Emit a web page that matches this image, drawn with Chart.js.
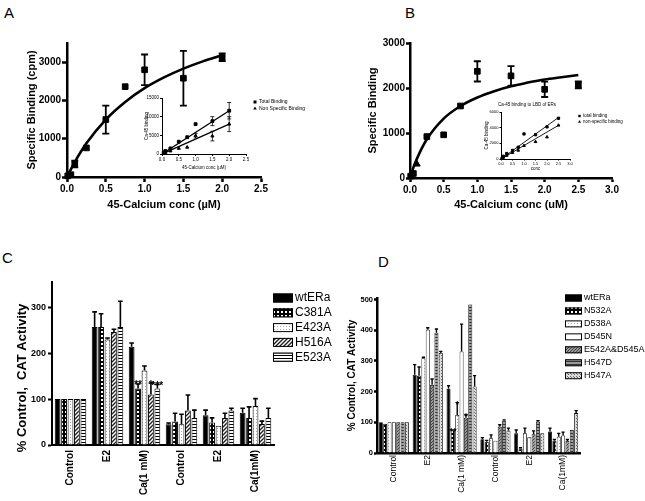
<!DOCTYPE html>
<html>
<head>
<meta charset="utf-8">
<script src="https://cdn.jsdelivr.net/npm/chart.js@4.4.0/dist/chart.umd.min.js"></script>
<style>
  body { margin: 0; background: #fff; }
  #wrap { position: relative; width: 645px; height: 501px; overflow: hidden; font-family: 'Liberation Sans', Arial, sans-serif; }
  #wrap canvas { position: absolute; }
  .tag { position: absolute; font-size: 15px; line-height: 15px; color: #000; }
</style>
</head>
<body>
<div id="wrap">
  <div class="tag" style="left:4px;top:5px">A</div>
  <div class="tag" style="left:405px;top:5px">B</div>
  <div class="tag" style="left:2px;top:250px">C</div>
  <div class="tag" style="left:378px;top:254px">D</div>
  <canvas id="chartA" width="320" height="240" style="left:0;top:0"></canvas>
  <canvas id="insetA" width="185" height="100" style="left:135px;top:85px"></canvas>
  <canvas id="chartB" width="325" height="240" style="left:320px;top:0"></canvas>
  <canvas id="insetB" width="175" height="80" style="left:470px;top:95px"></canvas>
  <canvas id="chartC" width="345" height="251" style="left:0;top:250px"></canvas>
  <canvas id="chartD" width="315" height="251" style="left:330px;top:250px"></canvas>
</div>
<script>
// ---- panel A: specific binding (cpm) vs 45Ca conc
const aConc = [0.01, 0.05, 0.1, 0.25, 0.5, 0.75, 1.0, 1.5, 2.0];
const aBinding = [30, 60, 340, 760, 1500, 2360, 2800, 2580, 3130];
const aErr = [0, 0, 90, 0, 365, 0, 400, 715, 100];
const aFitConc = [0, 0.05, 0.1, 0.25, 0.5, 0.75, 1.0, 1.25, 1.5, 1.75, 2.0];
const aFit = [0, 200, 390, 880, 1500, 1960, 2320, 2600, 2830, 3020, 3180];
const aXTicks = [0, 0.5, 1.0, 1.5, 2.0, 2.5];
const aYTicks = [0, 1000, 2000, 3000];
// inset A
const aInsConc = [0.05, 0.1, 0.25, 0.5, 0.75, 1.0, 1.5, 2.0];
const aInsTotal = [400, 800, 1500, 3300, 4500, 8000, 8800, 11600];
const aInsTotalErr = [0, 0, 0, 0, 0, 0, 1200, 2200];
const aInsNonSpec = [200, 400, 800, 1500, 1800, 4900, 4800, 8000];
const aInsNonSpecErr = [0, 0, 0, 0, 0, 600, 1300, 2000];
const aInsFitConc = [0, 2.0];
const aInsTotalFit = [0, 11600];
const aInsNonSpecFit = [0, 8000];
const aInsXTicks = [0, 0.5, 1.0, 1.5, 2.0, 2.5];
const aInsYTicks = [0, 5000, 10000, 15000];

// ---- panel B
const bConc = [0.01, 0.05, 0.1, 0.25, 0.5, 0.75, 1.0, 1.5, 2.0, 2.5];
const bBinding = [40, 100, 310, 920, 960, 1600, 2370, 2270, 1970, 2070];
const bErr = [0, 0, 0, 0, 0, 0, 225, 215, 170, 75];
const bStyle = ['rect', 'rect', 'triangle', 'rect', 'rect', 'rect', 'rect', 'rect', 'rect', 'rect'];
const bFitConc = [0, 0.05, 0.1, 0.25, 0.5, 0.75, 1.0, 1.25, 1.5, 1.75, 2.0, 2.25, 2.5];
const bFit = [0, 230, 420, 860, 1320, 1600, 1790, 1930, 2040, 2120, 2190, 2240, 2290];
const bXTicks = [0, 0.5, 1.0, 1.5, 2.0, 2.5, 3.0];
const bYTicks = [0, 1000, 2000, 3000];
// inset B
const bInsConc = [0.05, 0.1, 0.25, 0.5, 0.75, 1.0, 1.5, 2.0, 2.5];
const bInsTotal = [150, 350, 700, 1100, 1500, 3200, 3100, 4100, 5200];
const bInsNonSpec = [100, 200, 450, 800, 1100, 1700, 2200, 2800, 4300];
const bInsFitConc = [0, 2.5];
const bInsTotalFit = [0, 5300];
const bInsNonSpecFit = [0, 4300];
const bInsXTicks = [0, 0.5, 1.0, 1.5, 2.0, 2.5, 3.0];
const bInsYTicks = [0, 2000, 4000, 6000];

// ---- panel C: % control CAT activity
const cCats = ['Control', 'E2', 'Ca(1 mM)', 'Control', 'E2', 'Ca(1mM)'];
const cWt = [100, 257, 214, 45, 65, 70];
const cWtErr = [0, 33, 8, 3, 11, 10];
const cC381A = [100, 257, 123, 51, 49, 59];
const cC381AErr = [0, 29, 10, 18, 10, 24];
const cE423A = [100, 230, 162, 45, 42, 85];
const cE423AErr = [0, 3, 10, 22, 0, 16];
const cH516A = [100, 246, 110, 75, 59, 46];
const cH516AErr = [0, 6, 25, 34, 10, 6];
const cE523A = [100, 257, 123, 59, 75, 59];
const cE523AErr = [0, 56, 9, 17, 5, 21];
const cStars = { C381A: ['', '', '**', '', '', ''], H516A: ['', '', '*', '', '', ''], E523A: ['', '', '***', '', '', ''] };
const cYTicks = [0, 100, 200, 300];

// ---- panel D
const dCats = ['Control', 'E2', 'Ca(1 mM)', 'Control', 'E2', 'Ca(1mM)'];
const dWt = [100, 255, 209, 45, 64, 70];
const dWtErr = [0, 33, 10, 5, 11, 11];
const dN532A = [95, 252, 75, 37, 15, 40];
const dN532AErr = [0, 28, 0, 4, 2, 4];
const dD538A = [100, 309, 124, 48, 64, 53];
const dD538AErr = [0, 3, 40, 11, 17, 11];
const dD545N = [100, 402, 331, 40, 51, 57];
const dD545NErr = [0, 6, 89, 0, 0, 11];
const dE542A = [100, 222, 115, 86, 61, 39];
const dE542AErr = [0, 19, 9, 6, 11, 5];
const dH547D = [100, 392, 484, 105, 102, 75];
const dH547DErr = [0, 12, 0, 3, 3, 0];
const dH547A = [100, 326, 217, 73, 64, 130];
const dH547AErr = [0, 5, 35, 8, 0, 8];
const dStars = { N532A: ['', '', '**', '', '', ''], D538A: ['', '', '*', '', '', ''], E542A: ['', '', '*', '', '', ''] };
const dYTicks = [0, 100, 200, 300, 400, 500];

Chart.defaults.font.family = "'Liberation Sans', Arial, sans-serif";
Chart.defaults.color = '#000';
Chart.defaults.animation = false;
Chart.defaults.responsive = false;
Chart.defaults.plugins.legend.display = false;
Chart.defaults.plugins.tooltip.enabled = false;

function makePattern(w, h, draw) {
  const c = document.createElement('canvas');
  c.width = w; c.height = h;
  const g = c.getContext('2d');
  draw(g);
  return g.createPattern(c, 'repeat');
}
const pat = {
  checker: makePattern(4, 4, g => { g.fillStyle = '#000'; g.fillRect(0, 0, 4, 4); g.fillStyle = '#fff'; g.fillRect(1, 1, 2, 2); }),
  lightDots: makePattern(3, 3, g => { g.fillStyle = '#fff'; g.fillRect(0, 0, 3, 3); g.fillStyle = '#aaa'; g.fillRect(1, 1, 1, 1); }),
  diag: makePattern(4, 4, g => {
    g.fillStyle = '#fff'; g.fillRect(0, 0, 4, 4);
    g.strokeStyle = '#222'; g.lineWidth = 1.4;
    g.beginPath(); g.moveTo(-1, 5); g.lineTo(5, -1); g.moveTo(-1, 1); g.lineTo(1, -1); g.moveTo(3, 5); g.lineTo(5, 3); g.stroke();
  }),
  hLines: makePattern(3, 3, g => { g.fillStyle = '#fff'; g.fillRect(0, 0, 3, 3); g.fillStyle = '#000'; g.fillRect(0, 0, 3, 1); }),
  grayDiag: makePattern(3, 3, g => {
    g.fillStyle = '#999'; g.fillRect(0, 0, 3, 3);
    g.fillStyle = '#444'; g.fillRect(0, 2, 1, 1); g.fillRect(1, 1, 1, 1); g.fillRect(2, 0, 1, 1);
  }),
  grayLines: makePattern(3, 3, g => { g.fillStyle = '#999'; g.fillRect(0, 0, 3, 3); g.fillStyle = '#333'; g.fillRect(0, 0, 3, 1); }),
  grayDots: makePattern(3, 3, g => { g.fillStyle = '#ddd'; g.fillRect(0, 0, 3, 3); g.fillStyle = '#666'; g.fillRect(1, 1, 1, 1); g.fillRect(0, 0, 1, 1); })
};

// error bars (and significance stars) drawn through the chart's own scales
const errorBars = {
  id: 'errorBars',
  afterDatasetsDraw(chart) {
    const ctx = chart.ctx;
    chart.data.datasets.forEach((ds, i) => {
      if (!ds.errors) return;
      const meta = chart.getDatasetMeta(i);
      const ys = chart.scales[meta.yAxisID];
      ctx.save();
      ctx.strokeStyle = '#000';
      ctx.lineWidth = ds.errWidth || 1.5;
      meta.data.forEach((el, j) => {
        const raw = ds.data[j];
        const v = typeof raw === 'object' ? raw.y : raw;
        const e = ds.errors[j] || 0;
        const top = ys.getPixelForValue(v + e);
        if (e) {
          const bottom = ds.errorBoth ? ys.getPixelForValue(v - e) : el.y;
          const half = ds.cap || el.width * 0.4;
          ctx.beginPath();
          ctx.moveTo(el.x, bottom); ctx.lineTo(el.x, top);
          ctx.moveTo(el.x - half, top); ctx.lineTo(el.x + half, top);
          if (ds.errorBoth) { ctx.moveTo(el.x - half, bottom); ctx.lineTo(el.x + half, bottom); }
          ctx.stroke();
        }
        if (ds.stars && ds.stars[j]) {
          const fs = ds.starSize || 10;
          ctx.fillStyle = '#000';
          ctx.font = 'bold ' + fs + 'px ' + Chart.defaults.font.family;
          ctx.textAlign = 'center';
          ctx.textBaseline = 'alphabetic';
          ctx.fillText(ds.stars[j], el.x, top + fs * 0.45);
        }
      });
      ctx.restore();
    });
  }
};

// legend placed beside the plot like the original figure
const sideLegend = {
  id: 'sideLegend',
  afterDraw(chart, args, o) {
    const ctx = chart.ctx;
    ctx.save();
    ctx.font = o.font;
    ctx.textBaseline = 'middle';
    ctx.textAlign = 'left';
    if (o.caption) {
      ctx.fillStyle = '#000';
      ctx.textAlign = 'center';
      ctx.fillText(o.caption, o.capX, o.capY);
      ctx.textAlign = 'left';
    }
    let row = 0;
    chart.data.datasets.forEach(ds => {
      if (!ds.label) return;
      const y = o.y + row * o.step;
      row++;
      if (o.marker) {
        const x = o.x + o.boxW / 2, r = o.marker;
        ctx.fillStyle = '#000';
        ctx.beginPath();
        if (ds.pointStyle === 'triangle') {
          ctx.moveTo(x, y - r); ctx.lineTo(x + r * 0.9, y + r * 0.6); ctx.lineTo(x - r * 0.9, y + r * 0.6); ctx.closePath();
        } else {
          ctx.rect(x - r * 0.75, y - r * 0.75, r * 1.5, r * 1.5);
        }
        ctx.fill();
      } else {
        ctx.fillStyle = ds.backgroundColor;
        ctx.fillRect(o.x, y - o.boxH / 2, o.boxW, o.boxH);
        ctx.lineWidth = 1;
        ctx.strokeStyle = '#000';
        ctx.strokeRect(o.x + 0.5, y - o.boxH / 2 + 0.5, o.boxW - 1, o.boxH - 1);
      }
      ctx.fillStyle = '#000';
      ctx.fillText(ds.label, o.x + o.boxW + o.gap, y);
    });
    ctx.restore();
  }
};

// GraphPad-like axis: thick line, outside ticks, no grid
function gpAxis(o) {
  const ticks = {
    autoSkip: false, padding: o.pad, color: '#000', font: o.font,
    maxRotation: o.rot || 0, minRotation: o.rot || 0
  };
  if (o.type !== 'category') {
    ticks.callback = v => o.dec ? v.toFixed(o.dec) : String(v);
  }
  const axis = {
    type: o.type || 'linear',
    min: o.min, max: o.max,
    offset: o.type === 'category',
    border: { display: true, color: '#000', width: o.lw },
    grid: { display: !!o.tick, drawOnChartArea: false, drawTicks: !!o.tick, tickLength: o.tick || 0, tickWidth: o.lw, tickColor: '#000' },
    ticks: ticks,
    title: { display: !!o.title, text: o.title, font: o.titleFont, padding: 0, color: '#000' },
    afterFit: s => { if (s.isHorizontal()) s.height = o.size; else s.width = o.size; }
  };
  if (o.values) axis.afterBuildTicks = s => { s.ticks = o.values.map(v => ({ value: v })); };
  return axis;
}

const pts = (xs, ys) => xs.map((x, i) => ({ x: x, y: ys[i] }));
const boldF = s => ({ size: s, weight: 'bold' });

// ---------- A
new Chart(document.getElementById('chartA'), {
  type: 'scatter',
  data: { datasets: [
    { data: pts(aConc, aBinding), pointStyle: 'rect', pointRadius: 4, backgroundColor: '#000', borderColor: '#000',
      errors: aErr, errorBoth: true, cap: 3.5, errWidth: 1.8, clip: false },
    { data: pts(aFitConc, aFit), showLine: true, pointRadius: 0, borderColor: '#000', borderWidth: 2.6,
      tension: 0.4, cubicInterpolationMode: 'monotone', clip: false }
  ]},
  options: {
    layout: { padding: { left: 25, top: 43, right: 59, bottom: 28 } },
    scales: {
      x: gpAxis({ min: 0, max: 2.5, values: aXTicks, dec: 1, tick: 5, lw: 2.5, pad: 1, font: boldF(10), size: 35,
        title: '45-Calcium conc (\u00b5M)', titleFont: boldF(11) }),
      y: gpAxis({ min: 0, max: 3500, values: aYTicks, tick: 5, lw: 2.5, pad: 1, font: boldF(10), size: 42,
        title: 'Specific Binding (cpm)', titleFont: boldF(11) })
    }
  },
  plugins: [errorBars]
});

new Chart(document.getElementById('insetA'), {
  type: 'scatter',
  data: { datasets: [
    { label: 'Total Binding', data: pts(aInsConc, aInsTotal), pointStyle: 'rect', pointRadius: 2, backgroundColor: '#000', borderColor: '#000',
      errors: aInsTotalErr, errorBoth: true, cap: 2, errWidth: 0.8, clip: false },
    { label: 'Non Specific Binding', data: pts(aInsConc, aInsNonSpec), pointStyle: 'triangle', pointRadius: 1.8, backgroundColor: '#000', borderColor: '#000',
      errors: aInsNonSpecErr, errorBoth: true, cap: 2, errWidth: 0.8, clip: false },
    { data: pts(aInsFitConc, aInsTotalFit), showLine: true, pointRadius: 0, borderColor: '#000', borderWidth: 1.3 },
    { data: pts(aInsFitConc, aInsNonSpecFit), showLine: true, pointRadius: 0, borderColor: '#000', borderWidth: 1.3 }
  ]},
  options: {
    layout: { padding: { left: 9, top: 13, right: 74, bottom: 15 } },
    scales: {
      x: gpAxis({ min: 0, max: 2.5, values: aInsXTicks, dec: 1, tick: 2, lw: 1, pad: 1, font: { size: 4.5 }, size: 16,
        title: '45-Calcium conc (\u00b5M)', titleFont: { size: 4.5 } }),
      y: gpAxis({ min: 0, max: 15000, values: aInsYTicks, tick: 2, lw: 1, pad: 1, font: { size: 4.5 }, size: 18,
        title: 'Ca-45 binding', titleFont: { size: 4.5 } })
    },
    plugins: { sideLegend: { font: '5px "Liberation Sans", Arial', x: 118, y: 17, step: 6.4, boxW: 4, gap: 2, marker: 2 } }
  },
  plugins: [errorBars, sideLegend]
});

// ---------- B
new Chart(document.getElementById('chartB'), {
  type: 'scatter',
  data: { datasets: [
    { data: pts(bConc, bBinding), pointStyle: bStyle, pointRadius: 4, backgroundColor: '#000', borderColor: '#000',
      errors: bErr, errorBoth: true, cap: 3.5, errWidth: 1.8, clip: false },
    { data: pts(bFitConc, bFit), showLine: true, pointRadius: 0, borderColor: '#000', borderWidth: 2.6,
      tension: 0.4, cubicInterpolationMode: 'monotone', clip: false }
  ]},
  options: {
    layout: { padding: { left: 46, top: 43, right: 33, bottom: 28 } },
    scales: {
      x: gpAxis({ min: 0, max: 3.0, values: bXTicks, dec: 1, tick: 4, lw: 2.5, pad: 2, font: boldF(10), size: 34,
        title: '45-Calcium conc (uM)', titleFont: boldF(11) }),
      y: gpAxis({ min: 0, max: 3000, values: bYTicks, tick: 4, lw: 2.5, pad: 1, font: boldF(10), size: 44,
        title: 'Specific Binding', titleFont: boldF(11) })
    }
  },
  plugins: [errorBars]
});

new Chart(document.getElementById('insetB'), {
  type: 'scatter',
  data: { datasets: [
    { label: 'total binding', data: pts(bInsConc, bInsTotal), pointStyle: 'rect', pointRadius: 1.6, backgroundColor: '#000', borderColor: '#000', clip: false },
    { label: 'non-specific binding', data: pts(bInsConc, bInsNonSpec), pointStyle: 'triangle', pointRadius: 1.6, backgroundColor: '#000', borderColor: '#000', clip: false },
    { data: pts(bInsFitConc, bInsTotalFit), showLine: true, pointRadius: 0, borderColor: '#000', borderWidth: 0.9 },
    { data: pts(bInsFitConc, bInsNonSpecFit), showLine: true, pointRadius: 0, borderColor: '#000', borderWidth: 0.9 }
  ]},
  options: {
    layout: { padding: { left: 14, top: 17, right: 75, bottom: 4 } },
    scales: {
      x: gpAxis({ min: 0, max: 3.0, values: bInsXTicks, dec: 1, tick: 1.5, lw: 1, pad: 1, font: { size: 4 }, size: 12,
        title: 'conc', titleFont: { size: 4.5 } }),
      y: gpAxis({ min: 0, max: 6000, values: bInsYTicks, tick: 1.5, lw: 1, pad: 1, font: { size: 4 }, size: 17,
        title: 'Ca-45 binding', titleFont: { size: 4.5 } })
    },
    plugins: { sideLegend: { font: '4.5px "Liberation Sans", Arial', x: 108, y: 21, step: 5.7, boxW: 3, gap: 2, marker: 1.6,
      caption: 'Ca-45 binding to LBD of ERs', capX: 57, capY: 10 } }
  },
  plugins: [sideLegend]
});

// ---------- C
function barSet(label, values, errs, fill, stars) {
  return { label: label, data: values, errors: errs, stars: stars, backgroundColor: fill,
    borderColor: '#000', borderWidth: 1, errWidth: 1.6, starSize: 10 };
}
new Chart(document.getElementById('chartC'), {
  type: 'bar',
  data: { labels: cCats, datasets: [
    barSet('wtERa', cWt, cWtErr, '#000'),
    barSet('C381A', cC381A, cC381AErr, pat.checker, cStars.C381A),
    barSet('E423A', cE423A, cE423AErr, pat.lightDots),
    barSet('H516A', cH516A, cH516AErr, pat.diag, cStars.H516A),
    barSet('E523A', cE523A, cE523AErr, pat.hLines, cStars.E523A)
  ]},
  options: {
    datasets: { bar: { categoryPercentage: 0.87, barPercentage: 0.9 } },
    layout: { padding: { left: 15, top: 32, right: 71, bottom: 6 } },
    scales: {
      x: gpAxis({ type: 'category', lw: 2, pad: 5, rot: 90, font: boldF(10), size: 50 }),
      // trailing spaces nudge the title down, as in the original
      y: gpAxis({ min: 0, max: 355, values: cYTicks, tick: 4, lw: 2, pad: 2, font: boldF(9), size: 37,
        title: '% Control,  CAT Activity\u00a0\u00a0\u00a0\u00a0\u00a0\u00a0\u00a0\u00a0', titleFont: boldF(13) })
    },
    plugins: { sideLegend: { font: '12px "Liberation Sans", Arial', x: 273, y: 48, step: 14.8, boxW: 20, boxH: 9, gap: 2 } }
  },
  plugins: [errorBars, sideLegend]
});

// ---------- D
new Chart(document.getElementById('chartD'), {
  type: 'bar',
  data: { labels: dCats, datasets: [
    barSet('wtERa', dWt, dWtErr, '#000'),
    barSet('N532A', dN532A, dN532AErr, pat.checker, dStars.N532A),
    barSet('D538A', dD538A, dD538AErr, pat.lightDots, dStars.D538A),
    barSet('D545N', dD545N, dD545NErr, '#fff'),
    barSet('E542A&D545A', dE542A, dE542AErr, pat.grayDiag, dStars.E542A),
    barSet('H547D', dH547D, dH547DErr, pat.grayLines),
    barSet('H547A', dH547A, dH547AErr, pat.grayDots)
  ].map(d => Object.assign(d, { borderWidth: 0.8, errWidth: 1.4, starSize: 9 })) },
  options: {
    datasets: { bar: { categoryPercentage: 0.9, barPercentage: 0.92 } },
    layout: { padding: { left: 16, top: 48, right: 65, bottom: 8 } },
    scales: {
      x: gpAxis({ type: 'category', lw: 2.5, pad: 2, rot: 90, font: { size: 8.5 }, size: 40 }),
      y: gpAxis({ min: 0, max: 505, values: dYTicks, tick: 3, lw: 2.5, pad: 1, font: boldF(7.5), size: 31,
        title: '% Control, CAT Activity', titleFont: boldF(10) })
    },
    plugins: { sideLegend: { font: '9px "Liberation Sans", Arial', x: 235, y: 48, step: 12.95, boxW: 17, boxH: 7, gap: 2 } }
  },
  plugins: [errorBars, sideLegend]
});
</script>
</body>
</html>
